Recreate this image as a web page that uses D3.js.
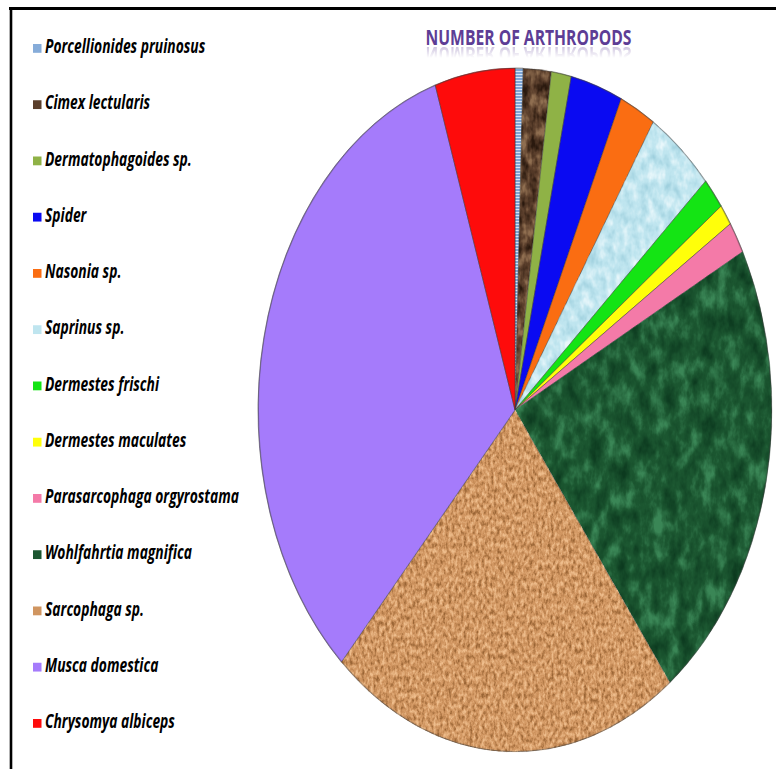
<!DOCTYPE html>
<html>
<head>
<meta charset="utf-8">
<script src="https://cdn.jsdelivr.net/npm/d3@7"></script>
<style>
  html, body { margin: 0; padding: 0; background: #fff; }
  svg { display: block; }
</style>
</head>
<body>
<script>
// Arthropods collected, by taxon (slices run clockwise from 12 o'clock)
const categories = [
  "Porcellionides pruinosus",
  "Cimex lectularis",
  "Dermatophagoides sp.",
  "Spider",
  "Nasonia sp.",
  "Saprinus sp.",
  "Dermestes frischi",
  "Dermestes maculates",
  "Parasarcophaga orgyrostama",
  "Wohlfahrtia magnifica",
  "Sarcophaga sp.",
  "Musca domestica",
  "Chrysomya albiceps"
];
const counts = [2, 7, 5, 13, 9, 17, 6, 4, 6, 89, 88, 132, 20];
const colors = [
  "#86acd9", "#5a3e2b", "#8fb246", "#0a0af2", "#fa6d12", "#bfe5ef", "#14e414",
  "#ffff0a", "#f47aa8", "#1b5630", "#d09560", "#a57bfb", "#fe0b0b"
];
// surface finish per slice: null = flat colour
const textures = [
  "stripes", "fx-cimex", null, null, null, "fx-saprinus", null,
  null, null, "fx-marble", "fx-cork", null, null
];
const title = "NUMBER OF ARTHROPODS";

const W = 776, H = 769;
const svg = d3.select("body").append("svg")
  .attr("width", W).attr("height", H)
  .attr("viewBox", `0 0 ${W} ${H}`);

svg.append("rect").attr("width", W).attr("height", H).attr("fill", "#fff");

const defs = svg.append("defs");

// fine horizontal stripes
const stripes = defs.append("pattern")
  .attr("id", "stripes").attr("patternUnits", "userSpaceOnUse")
  .attr("width", 6).attr("height", 3);
stripes.append("rect").attr("width", 6).attr("height", 3).attr("fill", "#7ea5d4");
stripes.append("rect").attr("width", 6).attr("height", 1).attr("fill", "#d6e5f6");

// noise-based surface finishes
function noiseFilter(id, opts) {
  const f = defs.append("filter").attr("id", id)
    .attr("x", "-5%").attr("y", "-5%").attr("width", "110%").attr("height", "110%")
    .attr("color-interpolation-filters", "sRGB");
  f.append("feTurbulence")
    .attr("type", opts.type || "fractalNoise")
    .attr("baseFrequency", opts.freq)
    .attr("numOctaves", opts.oct || 3)
    .attr("seed", opts.seed || 1)
    .attr("result", "n");
  const lc = d3.rgb(opts.light), dc = d3.rgb(opts.dark);
  f.append("feColorMatrix").attr("in", "n").attr("type", "matrix")
    .attr("values", `0 0 0 0 ${lc.r/255} 0 0 0 0 ${lc.g/255} 0 0 0 0 ${lc.b/255} ${opts.lk} 0 0 0 ${opts.lc}`)
    .attr("result", "light");
  f.append("feColorMatrix").attr("in", "n").attr("type", "matrix")
    .attr("values", `0 0 0 0 ${dc.r/255} 0 0 0 0 ${dc.g/255} 0 0 0 0 ${dc.b/255} ${-opts.dk} 0 0 0 ${opts.dc}`)
    .attr("result", "dark");
  const m = f.append("feMerge").attr("result", "m");
  m.append("feMergeNode").attr("in", "SourceGraphic");
  m.append("feMergeNode").attr("in", "light");
  m.append("feMergeNode").attr("in", "dark");
  f.append("feComposite").attr("in", "m").attr("in2", "SourceGraphic").attr("operator", "in");
}
noiseFilter("fx-cimex",    { freq: "0.1 0.07", seed: 3, light: "#8f6e50", lk: 4, lc: -2.0, dark: "#2a190e", dk: 4, dc: 1.9 });
noiseFilter("fx-saprinus", { freq: "0.09 0.07", seed: 7, light: "#e8f7fb", lk: 3, lc: -1.5, dark: "#9fd0de", dk: 3, dc: 1.4 });
noiseFilter("fx-marble",   { freq: "0.06 0.04", oct: 4, seed: 11, light: "#3a8656", lk: 3.5, lc: -1.75, dark: "#0c3a1f", dk: 3, dc: 1.45 });
noiseFilter("fx-cork",     { freq: "0.25 0.18", oct: 3, seed: 5, light: "#eebd8c", lk: 3.5, lc: -1.7, dark: "#9a6535", dk: 3.5, dc: 1.65 });

// frame
svg.append("line").attr("x1", 9).attr("x2", W).attr("y1", 8.5).attr("y2", 8.5)
  .attr("stroke", "#000").attr("stroke-width", 3.2);
svg.append("line").attr("x1", 11).attr("x2", 11).attr("y1", 7).attr("y2", H)
  .attr("stroke", "#000").attr("stroke-width", 2.6);

// pie, drawn as a circle then squeezed horizontally
const cx = 515, cy = 410, ry = 342, rx = 257;
const pie = d3.pie().sort(null).value(d => d)(counts);
const arc = d3.arc().innerRadius(0).outerRadius(ry);

const pg = svg.append("g")
  .attr("transform", `translate(${cx},${cy}) scale(${rx / ry},1)`);

pg.selectAll("path.slice").data(pie).join("path")
  .attr("class", "slice")
  .attr("d", arc)
  .attr("fill", (d, i) => textures[i] === "stripes" ? "url(#stripes)" : colors[i])
  .attr("filter", (d, i) => textures[i] && textures[i] !== "stripes" ? `url(#${textures[i]})` : null)
  .attr("stroke", "rgba(55,55,55,0.55)")
  .attr("stroke-width", 0.9)
  .attr("vector-effect", "non-scaling-stroke");

// soft rim
pg.append("circle").attr("r", ry - 0.5).attr("fill", "none")
  .attr("stroke", "rgba(70,70,70,0.35)").attr("stroke-width", 1.2)
  .attr("vector-effect", "non-scaling-stroke");

// title with a faded reflection
const tx = 528.5, tb = 45;
defs.append("text")
  .attr("id", "titleText")
  .attr("x", tx).attr("y", tb)
  .attr("text-anchor", "middle")
  .attr("font-family", "'Open Sans', Lato, sans-serif")
  .attr("font-weight", 700)
  .attr("font-size", 21.5)
  .attr("fill", "#5d3d95")
  .attr("textLength", 206).attr("lengthAdjust", "spacingAndGlyphs")
  .text(title);
svg.append("use").attr("href", "#titleText");

const fade = defs.append("linearGradient").attr("id", "fade")
  .attr("gradientUnits", "userSpaceOnUse").attr("x1", 0).attr("x2", 0)
  .attr("y1", tb).attr("y2", tb + 13);
fade.append("stop").attr("offset", 0).attr("stop-color", "#fff").attr("stop-opacity", 0.35);
fade.append("stop").attr("offset", 1).attr("stop-color", "#fff").attr("stop-opacity", 0);
defs.append("mask").attr("id", "reflMask")
  .attr("maskUnits", "userSpaceOnUse").attr("x", 0).attr("y", 0).attr("width", W).attr("height", H)
  .append("rect").attr("x", 0).attr("y", tb + 1).attr("width", W).attr("height", 16).attr("fill", "url(#fade)");
svg.append("g").attr("mask", "url(#reflMask)")
  .append("use").attr("href", "#titleText")
  .attr("transform", `translate(0,${2 * tb + 2}) scale(1,-1)`);

// legend
const legendFont = "'Open Sans', Lato, sans-serif";
const legendSize = 19.5;
const probe = svg.append("text")
  .attr("font-family", legendFont).attr("font-weight", 700)
  .attr("font-style", "italic").attr("font-size", legendSize)
  .text(categories[8]);
const sx = 194 / probe.node().getComputedTextLength();
probe.remove();

const y0 = 53, dy = 56.25;
const lg = svg.append("g").selectAll("g").data(categories).join("g")
  .attr("transform", (d, i) => `translate(0,${y0 + dy * i})`);
lg.append("rect")
  .attr("x", 33).attr("y", -9).attr("width", 8.5).attr("height", 8.8)
  .attr("fill", (d, i) => colors[i]);
lg.append("text")
  .attr("transform", `translate(45,0) scale(${sx},1)`)
  .attr("font-family", legendFont).attr("font-weight", 700)
  .attr("font-style", "italic").attr("font-size", legendSize)
  .attr("fill", "#000")
  .text(d => d);
</script>
</body>
</html>
